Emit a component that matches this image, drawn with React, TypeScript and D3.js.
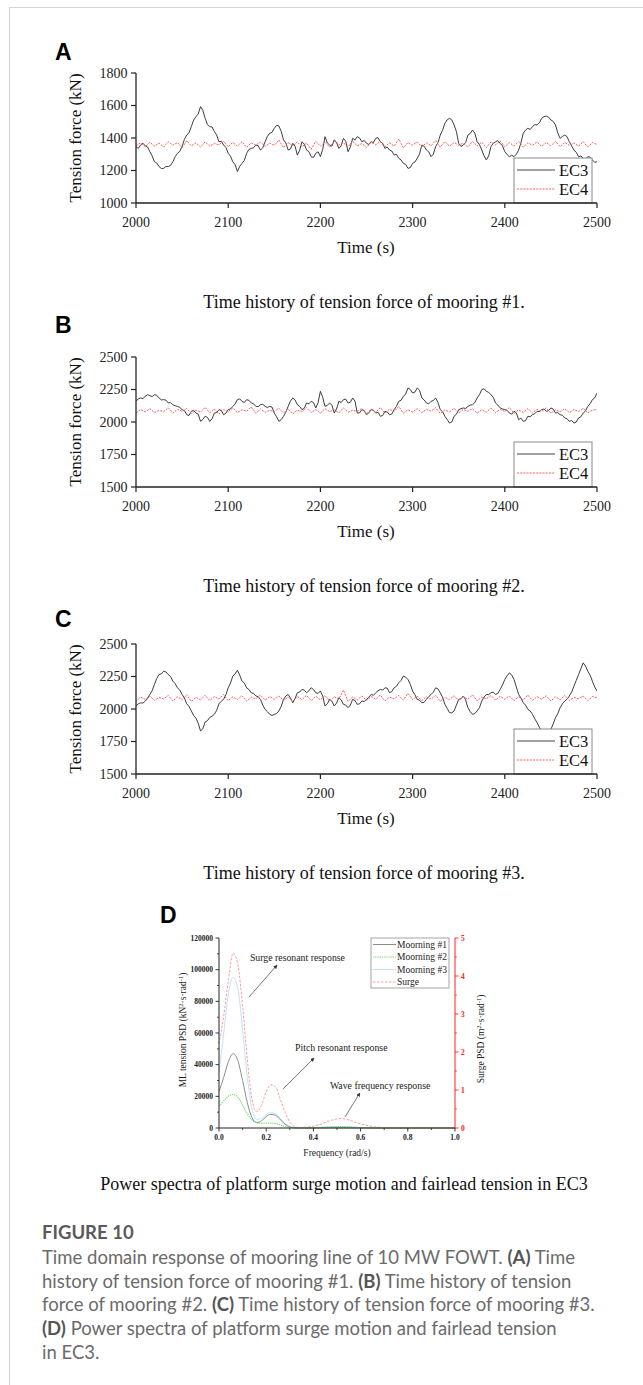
import React from "react";
import * as d3 from "d3";

// ---------- time-domain data ----------
// EC3 sampled every 2.5 s, EC4 every 5 s, both from 2000 s to 2500 s
const TIME_DOMAIN = [2000, 2500];
const TIME_TICKS = [2000, 2100, 2200, 2300, 2400, 2500];
const TICKS_M1 = [1000, 1200, 1400, 1600, 1800];
const TICKS_M23 = [1500, 1750, 2000, 2250, 2500];

const EC3_M1 = [
  1347, 1336, 1357, 1368, 1352, 1345, 1316, 1290, 1254, 1246, 1224, 1212, 1213, 1225, 1224, 1232, 1254, 1285, 1306, 1318,
  1347, 1392, 1418, 1432, 1470, 1510, 1531, 1548, 1593, 1570, 1521, 1482, 1470, 1468, 1439, 1418, 1377, 1380, 1357, 1342,
  1306, 1288, 1254, 1236, 1193, 1226, 1244, 1262, 1306, 1330, 1336, 1340, 1357, 1352, 1326, 1340, 1377, 1410, 1429, 1435,
  1460, 1478, 1474, 1440, 1388, 1370, 1326, 1332, 1367, 1350, 1295, 1325, 1377, 1362, 1326, 1316, 1285, 1280, 1306, 1315,
  1285, 1330, 1408, 1370, 1357, 1350, 1388, 1374, 1336, 1352, 1398, 1380, 1316, 1345, 1398, 1388, 1408, 1400, 1377, 1385,
  1367, 1360, 1377, 1372, 1398, 1402, 1377, 1368, 1336, 1345, 1326, 1320, 1295, 1300, 1275, 1265, 1244, 1238, 1213, 1218,
  1244, 1252, 1275, 1300, 1357, 1350, 1326, 1315, 1285, 1300, 1347, 1372, 1418, 1448, 1490, 1512, 1521, 1512, 1480, 1440,
  1367, 1348, 1357, 1372, 1418, 1428, 1449, 1430, 1377, 1360, 1326, 1290, 1265, 1290, 1347, 1368, 1377, 1384, 1367, 1352,
  1316, 1298, 1285, 1294, 1285, 1300, 1326, 1370, 1429, 1448, 1460, 1452, 1470, 1482, 1480, 1494, 1521, 1532, 1535, 1528,
  1511, 1502, 1480, 1430, 1398, 1410, 1418, 1408, 1377, 1352, 1326, 1312, 1285, 1290, 1275, 1268, 1285, 1282, 1265, 1250,
  1254,
];
const EC4_M1 = [
  1352, 1370, 1346, 1374, 1350, 1368, 1344, 1378, 1356, 1372,
  1340, 1384, 1352, 1370, 1344, 1376, 1350, 1366, 1358, 1380,
  1346, 1372, 1350, 1378, 1342, 1370, 1356, 1376, 1348, 1368,
  1354, 1388, 1340, 1372, 1352, 1376, 1346, 1370, 1330, 1380,
  1350, 1374, 1344, 1378, 1356, 1370, 1346, 1380, 1352, 1366,
  1342, 1374, 1358, 1378, 1346, 1370, 1350, 1394, 1340, 1372,
  1356, 1376, 1346, 1370, 1352, 1384, 1344, 1378, 1350, 1372,
  1356, 1368, 1344, 1380, 1352, 1374, 1340, 1376, 1358, 1382,
  1346, 1372, 1350, 1378, 1344, 1370, 1356, 1376, 1348, 1372,
  1352, 1380, 1346, 1374, 1354, 1370, 1350, 1378, 1344, 1372,
  1360,
];

const EC3_M2 = [
  2159, 2178, 2185, 2180, 2197, 2210, 2203, 2195, 2210, 2206, 2185, 2170, 2172, 2168, 2146, 2150, 2133, 2125, 2120, 2112,
  2095, 2088, 2056, 2050, 2082, 2090, 2069, 2060, 2005, 2020, 2044, 2035, 2005, 2025, 2069, 2072, 2095, 2090, 2056, 2068,
  2095, 2100, 2120, 2138, 2172, 2178, 2159, 2150, 2172, 2166, 2146, 2140, 2120, 2118, 2133, 2136, 2120, 2112, 2120, 2115,
  2069, 2040, 2005, 2018, 2044, 2075, 2120, 2160, 2185, 2170, 2133, 2120, 2095, 2105, 2146, 2140, 2159, 2150, 2108, 2150,
  2236, 2190, 2120, 2128, 2146, 2130, 2069, 2100, 2159, 2150, 2172, 2176, 2146, 2152, 2185, 2160, 2069, 2070, 2095, 2088,
  2056, 2070, 2095, 2090, 2069, 2075, 2044, 2050, 2082, 2078, 2056, 2062, 2095, 2120, 2159, 2168, 2197, 2215, 2262, 2250,
  2223, 2230, 2262, 2245, 2185, 2170, 2146, 2140, 2159, 2165, 2185, 2150, 2095, 2080, 2044, 2020, 1992, 2000, 2044, 2060,
  2095, 2102, 2108, 2104, 2120, 2130, 2133, 2150, 2185, 2210, 2249, 2256, 2236, 2228, 2210, 2190, 2146, 2130, 2108, 2100,
  2095, 2090, 2069, 2060, 2082, 2070, 2018, 2030, 2005, 2010, 2044, 2040, 2056, 2064, 2082, 2080, 2095, 2100, 2082, 2088,
  2108, 2100, 2069, 2072, 2056, 2052, 2031, 2025, 2005, 2012, 1992, 2000, 2031, 2040, 2069, 2085, 2120, 2140, 2172, 2185,
  2223,
];
const EC4_M2 = [
  2070, 2095, 2078, 2102, 2072, 2090, 2080, 2110, 2068, 2098,
  2082, 2104, 2066, 2092, 2076, 2112, 2070, 2100, 2060, 2095,
  2078, 2108, 2072, 2094, 2084, 2116, 2066, 2100, 2074, 2090,
  2080, 2106, 2070, 2098, 2062, 2092, 2078, 2110, 2072, 2096,
  2068, 2102, 2080, 2094, 2070, 2108, 2076, 2090, 2082, 2104,
  2064, 2096, 2074, 2112, 2070, 2098, 2080, 2120, 2068, 2094,
  2076, 2104, 2072, 2098, 2084, 2110, 2066, 2092, 2078, 2106,
  2070, 2096, 2082, 2102, 2068, 2094, 2076, 2108, 2072, 2098,
  2080, 2112, 2066, 2094, 2074, 2104, 2070, 2098, 2082, 2108,
  2068, 2094, 2078, 2102, 2072, 2096, 2080, 2106, 2070, 2092,
  2096,
];

const EC3_M3 = [
  2023, 2040, 2048, 2045, 2061, 2080, 2112, 2140, 2189, 2235, 2265, 2270, 2291, 2285, 2265, 2250, 2214, 2195, 2163, 2145,
  2112, 2085, 2040, 2020, 1985, 1950, 1930, 1890, 1830, 1850, 1900, 1910, 1935, 1945, 1960, 1990, 2040, 2060, 2074, 2110,
  2163, 2200, 2253, 2270, 2298, 2260, 2214, 2200, 2163, 2150, 2125, 2120, 2100, 2095, 2074, 2030, 1997, 1980, 1959, 1950,
  1959, 1965, 1985, 2020, 2074, 2100, 2112, 2085, 2048, 2080, 2125, 2130, 2151, 2145, 2125, 2140, 2163, 2150, 2125, 2120,
  2138, 2100, 2023, 2040, 2074, 2060, 2023, 2045, 2087, 2070, 2036, 2030, 2010, 2030, 2074, 2065, 2036, 2040, 2061, 2058,
  2074, 2090, 2112, 2105, 2125, 2140, 2151, 2145, 2163, 2160, 2125, 2135, 2163, 2175, 2202, 2220, 2253, 2245, 2227, 2190,
  2138, 2110, 2074, 2068, 2048, 2052, 2074, 2095, 2112, 2130, 2163, 2155, 2125, 2090, 2036, 2005, 1972, 1970, 1985, 2030,
  2074, 2080, 2100, 2070, 2010, 1980, 1959, 1965, 1985, 2010, 2061, 2092, 2112, 2110, 2125, 2130, 2112, 2120, 2151, 2185,
  2227, 2255, 2278, 2262, 2227, 2170, 2112, 2085, 2048, 2030, 1997, 1985, 1959, 1925, 1895, 1860, 1832, 1810, 1793, 1805,
  1844, 1885, 1934, 1965, 2010, 2040, 2061, 2075, 2100, 2130, 2176, 2220, 2265, 2310, 2355, 2330, 2291, 2260, 2214, 2170,
  2138,
];
const EC4_M3 = [
  2060, 2092, 2074, 2100, 2066, 2088, 2078, 2104, 2062, 2094,
  2072, 2110, 2058, 2090, 2070, 2106, 2066, 2096, 2076, 2112,
  2064, 2094, 2072, 2102, 2060, 2090, 2078, 2108, 2068, 2096,
  2074, 2100, 2066, 2092, 2060, 2096, 2072, 2106, 2064, 2098,
  2070, 2104, 2062, 2094, 2076, 2146, 2058, 2092, 2070, 2100,
  2066, 2096, 2074, 2108, 2062, 2092, 2078, 2104, 2068, 2120,
  2072, 2098, 2064, 2094, 2076, 2106, 2060, 2090, 2072, 2102,
  2066, 2096, 2074, 2110, 2062, 2092, 2078, 2104, 2068, 2098,
  2074, 2100, 2064, 2094, 2070, 2108, 2066, 2096, 2076, 2102,
  2062, 2094, 2072, 2104, 2066, 2090, 2078, 2100, 2064, 2096,
  2086,
];

// ---------- spectra data ----------
const FREQ = [
  0.0, 0.02, 0.04, 0.06, 0.08, 0.1, 0.12, 0.14, 0.16, 0.18,
  0.2, 0.22, 0.24, 0.26, 0.28, 0.3, 0.32, 0.34, 0.36, 0.38,
  0.4, 0.42, 0.44, 0.46, 0.48, 0.5, 0.52, 0.54, 0.56, 0.58,
  0.6, 0.62, 0.64, 0.66, 0.68, 0.7, 0.72, 0.74, 0.76, 0.78,
  0.8, 0.82, 0.84, 0.86, 0.88, 0.9, 0.92, 0.94, 0.96, 0.98, 1.0,
];
const PSD_MOORING1 = [
  23000, 32000, 42000, 47000, 42500, 30000, 16000, 6500, 3400, 4500,
  7200, 8600, 8000, 5200, 2400, 700, 100, 50, 30, 30,
  30, 40, 60, 80, 100, 120, 120, 100, 80, 60,
  40, 30, 20, 10, 10, 10, 10, 10, 10, 10,
  10, 10, 10, 10, 10, 10, 10, 10, 10, 10, 10,
];
const PSD_MOORING2 = [
  13800, 17000, 20200, 21200, 19500, 14500, 9000, 5000, 3300, 2900,
  3000, 3150, 2800, 1900, 1000, 500, 200, 100, 80, 100,
  150, 250, 400, 550, 700, 850, 900, 800, 600, 400,
  250, 150, 80, 40, 20, 10, 10, 10, 10, 10,
  10, 10, 10, 10, 10, 10, 10, 10, 10, 10, 10,
];
const PSD_MOORING3 = [
  35000, 60000, 85000, 95000, 88000, 62000, 32000, 12000, 5500, 6000,
  8500, 9600, 9000, 6000, 2800, 900, 200, 100, 80, 100,
  200, 350, 550, 750, 900, 1000, 1000, 850, 650, 450,
  300, 180, 100, 50, 30, 20, 10, 10, 10, 10,
  10, 10, 10, 10, 10, 10, 10, 10, 10, 10, 10,
];
const PSD_SURGE = [
  2.22, 2.95, 3.9, 4.6, 4.3, 3.2, 1.8, 0.75, 0.43, 0.6,
  0.95, 1.14, 1.08, 0.75, 0.42, 0.16, 0.04, 0.01, 0.02, 0.03,
  0.05, 0.08, 0.12, 0.17, 0.21, 0.24, 0.25, 0.23, 0.19, 0.15,
  0.11, 0.08, 0.05, 0.03, 0.02, 0.01, 0.01, 0.01, 0.01, 0.01,
  0.01, 0.01, 0.01, 0.01, 0.01, 0.01, 0.01, 0.01, 0.01, 0.01, 0.01,
];
const FREQ_TICKS = [0, 0.2, 0.4, 0.6, 0.8, 1.0];
const FREQ_MINOR = [0.1, 0.3, 0.5, 0.7, 0.9];
const PSD_TICKS = [0, 20000, 40000, 60000, 80000, 100000, 120000];
const PSD_MINOR = [10000, 30000, 50000, 70000, 90000, 110000];
const SURGE_TICKS = [0, 1, 2, 3, 4, 5];
const SURGE_MINOR = [0.5, 1.5, 2.5, 3.5, 4.5];

// annotation anchors in data space: [freq, tension PSD]
const ANNOTATIONS = [
  { text: "Surge resonant response", at: [0.131, 105500], from: [0.127, 82700], to: [0.246, 102900] },
  { text: "Pitch resonant response", at: [0.322, 48600], from: [0.271, 24600], to: [0.403, 44200] },
  { text: "Wave frequency response", at: [0.47, 24600], from: [0.534, 6950], to: [0.597, 22100] },
];

const SERIF = "'Liberation Serif', 'Times New Roman', serif";
const SANS = "'Liberation Sans', Arial, sans-serif";
const CAPTION_FONT = "Lato, 'Open Sans', sans-serif";

type PanelProps = {
  top: number;
  letter: string;
  letterY: number;
  yDomain: [number, number];
  yTicks: number[];
  ec3: number[];
  ec4: number[];
  caption: string;
};

function TimePanel({ top, letter, letterY, yDomain, yTicks, ec3, ec4, caption }: PanelProps) {
  const left = 136;
  const right = 597;
  const h = 130;
  const bottom = top + h;
  const x = d3.scaleLinear().domain(TIME_DOMAIN).range([left, right]);
  const y = d3.scaleLinear().domain(yDomain).range([bottom, top]);
  const mk = (arr: number[]) =>
    d3
      .line<number>()
      .x((_, i) => x(TIME_DOMAIN[0] + (i * (TIME_DOMAIN[1] - TIME_DOMAIN[0])) / (arr.length - 1)))
      .y((d) => y(d))(arr) || "";
  const clipId = `clip-${letter}`;
  const lgTop = bottom - 45;
  return (
    <g>
      <text x={55} y={letterY} fontFamily={SANS} fontWeight={700} fontSize={23} fill="#000">
        {letter}
      </text>
      <clipPath id={clipId}>
        <rect x={left} y={top - 2} width={right - left} height={h + 2} />
      </clipPath>
      <g clipPath={`url(#${clipId})`}>
        <path d={mk(ec3)} fill="none" stroke="#333" strokeWidth={0.95} strokeLinejoin="round" />
        <path d={mk(ec4)} fill="none" stroke="#ff5a5a" strokeWidth={1} strokeDasharray="2,1.2" />
      </g>
      {/* legend */}
      <rect x={514} y={lgTop} width={78} height={45} fill="#fff" stroke="#8a8a8a" strokeWidth={1} />
      <line x1={517} x2={555} y1={lgTop + 12} y2={lgTop + 12} stroke="#444" strokeWidth={1} />
      <line x1={517} x2={555} y1={lgTop + 31} y2={lgTop + 31} stroke="#ff5a5a" strokeWidth={1} strokeDasharray="2,1.2" />
      <text x={559} y={lgTop + 17.5} fontFamily={SERIF} fontSize={16.5} fill="#111">EC3</text>
      <text x={559} y={lgTop + 36.5} fontFamily={SERIF} fontSize={16.5} fill="#111">EC4</text>
      {/* axes */}
      <line x1={left} x2={right} y1={bottom} y2={bottom} stroke="#222" strokeWidth={1.3} />
      <line x1={left} x2={left} y1={top} y2={bottom} stroke="#222" strokeWidth={1.3} />
      {TIME_TICKS.map((t) => (
        <g key={t}>
          <line x1={x(t)} x2={x(t)} y1={bottom} y2={bottom + 5} stroke="#222" strokeWidth={1.2} />
          <text x={x(t)} y={bottom + 23.5} textAnchor="middle" fontFamily={SERIF} fontSize={14} fill="#222">
            {t}
          </text>
        </g>
      ))}
      {yTicks.map((v) => (
        <g key={v}>
          <line x1={left - 5} x2={left} y1={y(v)} y2={y(v)} stroke="#222" strokeWidth={1.2} />
          <text x={left - 8.5} y={y(v) + 4.7} textAnchor="end" fontFamily={SERIF} fontSize={14} fill="#222">
            {v}
          </text>
        </g>
      ))}
      <text
        transform={`translate(80.5,${top + h / 2}) rotate(-90)`}
        textAnchor="middle"
        fontFamily={SERIF}
        fontSize={17}
        fill="#111"
      >
        Tension force (kN)
      </text>
      <text x={366} y={bottom + 50} textAnchor="middle" fontFamily={SERIF} fontSize={17} fill="#111">
        Time (s)
      </text>
      <text x={364} y={bottom + 105} textAnchor="middle" fontFamily={SERIF} fontSize={18} fill="#111">
        {caption}
      </text>
    </g>
  );
}

function SpectraPanel() {
  const left = 219;
  const right = 455;
  const top = 938;
  const bottom = 1128;
  const x = d3.scaleLinear().domain([0, 1]).range([left, right]);
  const yT = d3.scaleLinear().domain([0, 120000]).range([bottom, top]);
  const yS = d3.scaleLinear().domain([0, 5]).range([bottom, top]);
  const lineT = (vals: number[]) =>
    d3
      .line<number>()
      .x((_, i) => x(FREQ[i]))
      .y((d) => yT(d))
      .curve(d3.curveMonotoneX)(vals) || "";
  const surgePath =
    d3
      .line<number>()
      .x((_, i) => x(FREQ[i]))
      .y((d) => yS(d))
      .curve(d3.curveMonotoneX)(PSD_SURGE) || "";
  const tickFont = { fontFamily: SERIF, fontSize: 7.5, fontWeight: 700 } as const;
  const legendRows = [
    { label: "Moorning #1", color: "#8c8c8c", dash: undefined, w: 1 },
    { label: "Moorning #2", color: "#5ee05e", dash: "1.2,1", w: 1.1 },
    { label: "Moorning #3", color: "#bfe3fb", dash: undefined, w: 1 },
    { label: "Surge", color: "#ff9c9c", dash: "2.5,1.5", w: 1 },
  ];
  const legendY = [944.5, 957, 969.5, 982];
  return (
    <g>
      <text x={160} y={923} fontFamily={SANS} fontWeight={700} fontSize={23} fill="#000">
        D
      </text>
      <defs>
        <marker id="arrowHead" viewBox="0 0 10 10" refX="9" refY="5" markerWidth="5" markerHeight="5" orient="auto">
          <path d="M0,0 L10,5 L0,10 z" fill="#333" />
        </marker>
      </defs>
      {/* curves */}
      <path d={lineT(PSD_MOORING3)} fill="none" stroke="#bfe3fb" strokeWidth={1} />
      <path d={lineT(PSD_MOORING1)} fill="none" stroke="#8c8c8c" strokeWidth={1} />
      <path d={lineT(PSD_MOORING2)} fill="none" stroke="#5ee05e" strokeWidth={1.1} strokeDasharray="1.2,1" />
      <path d={surgePath} fill="none" stroke="#ff9c9c" strokeWidth={1} strokeDasharray="2.5,1.5" />
      {/* annotations */}
      {ANNOTATIONS.map((a) => (
        <g key={a.text}>
          <text x={x(a.at[0])} y={yT(a.at[1])} fontFamily={SERIF} fontSize={9.8} fill="#222">
            {a.text}
          </text>
          <line
            x1={x(a.from[0])}
            y1={yT(a.from[1])}
            x2={x(a.to[0])}
            y2={yT(a.to[1])}
            stroke="#555"
            strokeWidth={0.8}
            markerEnd="url(#arrowHead)"
          />
        </g>
      ))}
      {/* left axis */}
      <line x1={left} x2={left} y1={top} y2={bottom} stroke="#222" strokeWidth={1} />
      {PSD_TICKS.map((v) => (
        <g key={v}>
          <line x1={left - 3.5} x2={left} y1={yT(v)} y2={yT(v)} stroke="#222" strokeWidth={0.9} />
          <text x={left - 6} y={yT(v) + 2.6} textAnchor="end" {...tickFont} fill="#222">
            {v}
          </text>
        </g>
      ))}
      {PSD_MINOR.map((v) => (
        <line key={v} x1={left - 2} x2={left} y1={yT(v)} y2={yT(v)} stroke="#222" strokeWidth={0.8} />
      ))}
      {/* right axis */}
      <line x1={right} x2={right} y1={top} y2={bottom} stroke="#ff2020" strokeWidth={1} />
      {SURGE_TICKS.map((v) => (
        <g key={v}>
          <line x1={right} x2={right + 3.5} y1={yS(v)} y2={yS(v)} stroke="#ff2020" strokeWidth={0.9} />
          <text x={right + 6} y={yS(v) + 2.6} {...tickFont} fill="#ff2020">
            {v}
          </text>
        </g>
      ))}
      {SURGE_MINOR.map((v) => (
        <line key={v} x1={right} x2={right + 2} y1={yS(v)} y2={yS(v)} stroke="#ff2020" strokeWidth={0.8} />
      ))}
      {/* bottom axis */}
      <line x1={left} x2={right} y1={bottom} y2={bottom} stroke="#222" strokeWidth={1} />
      {FREQ_TICKS.map((f) => (
        <g key={f}>
          <line x1={x(f)} x2={x(f)} y1={bottom} y2={bottom + 3.5} stroke="#222" strokeWidth={0.9} />
          <text x={x(f)} y={bottom + 12} textAnchor="middle" {...tickFont} fill="#222">
            {f.toFixed(1)}
          </text>
        </g>
      ))}
      {FREQ_MINOR.map((f) => (
        <line key={f} x1={x(f)} x2={x(f)} y1={bottom} y2={bottom + 2} stroke="#222" strokeWidth={0.8} />
      ))}
      {/* axis titles */}
      <text transform={`translate(186,1030) rotate(-90)`} textAnchor="middle" fontFamily={SERIF} fontSize={9.5} fill="#222">
        ML tension PSD (kN
        <tspan dy={-3} fontSize={6.5}>2</tspan>
        <tspan dy={3}>·s·rad</tspan>
        <tspan dy={-3} fontSize={6.5}>-1</tspan>
        <tspan dy={3}>)</tspan>
      </text>
      <text transform={`translate(483.5,1039) rotate(-90)`} textAnchor="middle" fontFamily={SERIF} fontSize={9.5} fill="#222">
        Surge PSD (m
        <tspan dy={-3} fontSize={6.5}>2</tspan>
        <tspan dy={3}>·s·rad</tspan>
        <tspan dy={-3} fontSize={6.5}>-1</tspan>
        <tspan dy={3}>)</tspan>
      </text>
      <text x={337} y={1156} textAnchor="middle" fontFamily={SERIF} fontSize={9.5} fill="#222">
        Frequency (rad/s)
      </text>
      {/* legend */}
      <rect x={371} y={top} width={78} height={50} fill="#fff" stroke="#9a9a9a" strokeWidth={0.9} />
      {legendRows.map((r, i) => (
        <g key={r.label}>
          <line x1={373} x2={396} y1={legendY[i]} y2={legendY[i]} stroke={r.color} strokeWidth={r.w} strokeDasharray={r.dash} />
          <text x={397} y={legendY[i] + 3.2} fontFamily={SERIF} fontSize={9.5} fill="#222">
            {r.label}
          </text>
        </g>
      ))}
      <text x={344} y={1190} textAnchor="middle" fontFamily={SERIF} fontSize={18} fill="#111">
        Power spectra of platform surge motion and fairlead tension in EC3
      </text>
    </g>
  );
}

function Caption() {
  const base = { fontFamily: CAPTION_FONT, fontSize: 18.5, fill: "#6b6b6b" } as const;
  const b = { fontWeight: 700, fill: "#555" } as const;
  return (
    <g>
      <text x={42} y={1239} fontFamily={CAPTION_FONT} fontSize={18.5} fontWeight={700} fill="#5a5a5a">
        FIGURE 10
      </text>
      <text x={42} y={1264} {...base}>
        Time domain response of mooring line of 10 MW FOWT. <tspan {...b}>(A)</tspan> Time
      </text>
      <text x={42} y={1288} {...base}>
        history of tension force of mooring #1. <tspan {...b}>(B)</tspan> Time history of tension
      </text>
      <text x={42} y={1311} {...base}>
        force of mooring #2. <tspan {...b}>(C)</tspan> Time history of tension force of mooring #3.
      </text>
      <text x={42} y={1335} {...base}>
        <tspan {...b}>(D)</tspan> Power spectra of platform surge motion and fairlead tension
      </text>
      <text x={42} y={1359} {...base}>
        in EC3.
      </text>
    </g>
  );
}

export default function App() {
  return (
    <svg
      width={643}
      height={1385}
      viewBox="0 0 643 1385"
      style={{ position: "absolute", left: 0, top: 0, background: "#fff" }}
    >
      <rect x={0} y={0} width={643} height={1385} fill="#fff" />
      <line x1={9} x2={643} y1={7.5} y2={7.5} stroke="#d4d4d4" strokeWidth={1} />
      <line x1={9.5} x2={9.5} y1={7} y2={1385} stroke="#d4d4d4" strokeWidth={1} />
      <TimePanel
        top={73}
        letter="A"
        letterY={60}
        yDomain={[1000, 1800]}
        yTicks={TICKS_M1}
        ec3={EC3_M1}
        ec4={EC4_M1}
        caption="Time history of tension force of mooring #1."
      />
      <TimePanel
        top={357}
        letter="B"
        letterY={333}
        yDomain={[1500, 2500]}
        yTicks={TICKS_M23}
        ec3={EC3_M2}
        ec4={EC4_M2}
        caption="Time history of tension force of mooring #2."
      />
      <TimePanel
        top={644}
        letter="C"
        letterY={627}
        yDomain={[1500, 2500]}
        yTicks={TICKS_M23}
        ec3={EC3_M3}
        ec4={EC4_M3}
        caption="Time history of tension force of mooring #3."
      />
      <SpectraPanel />
      <Caption />
    </svg>
  );
}
